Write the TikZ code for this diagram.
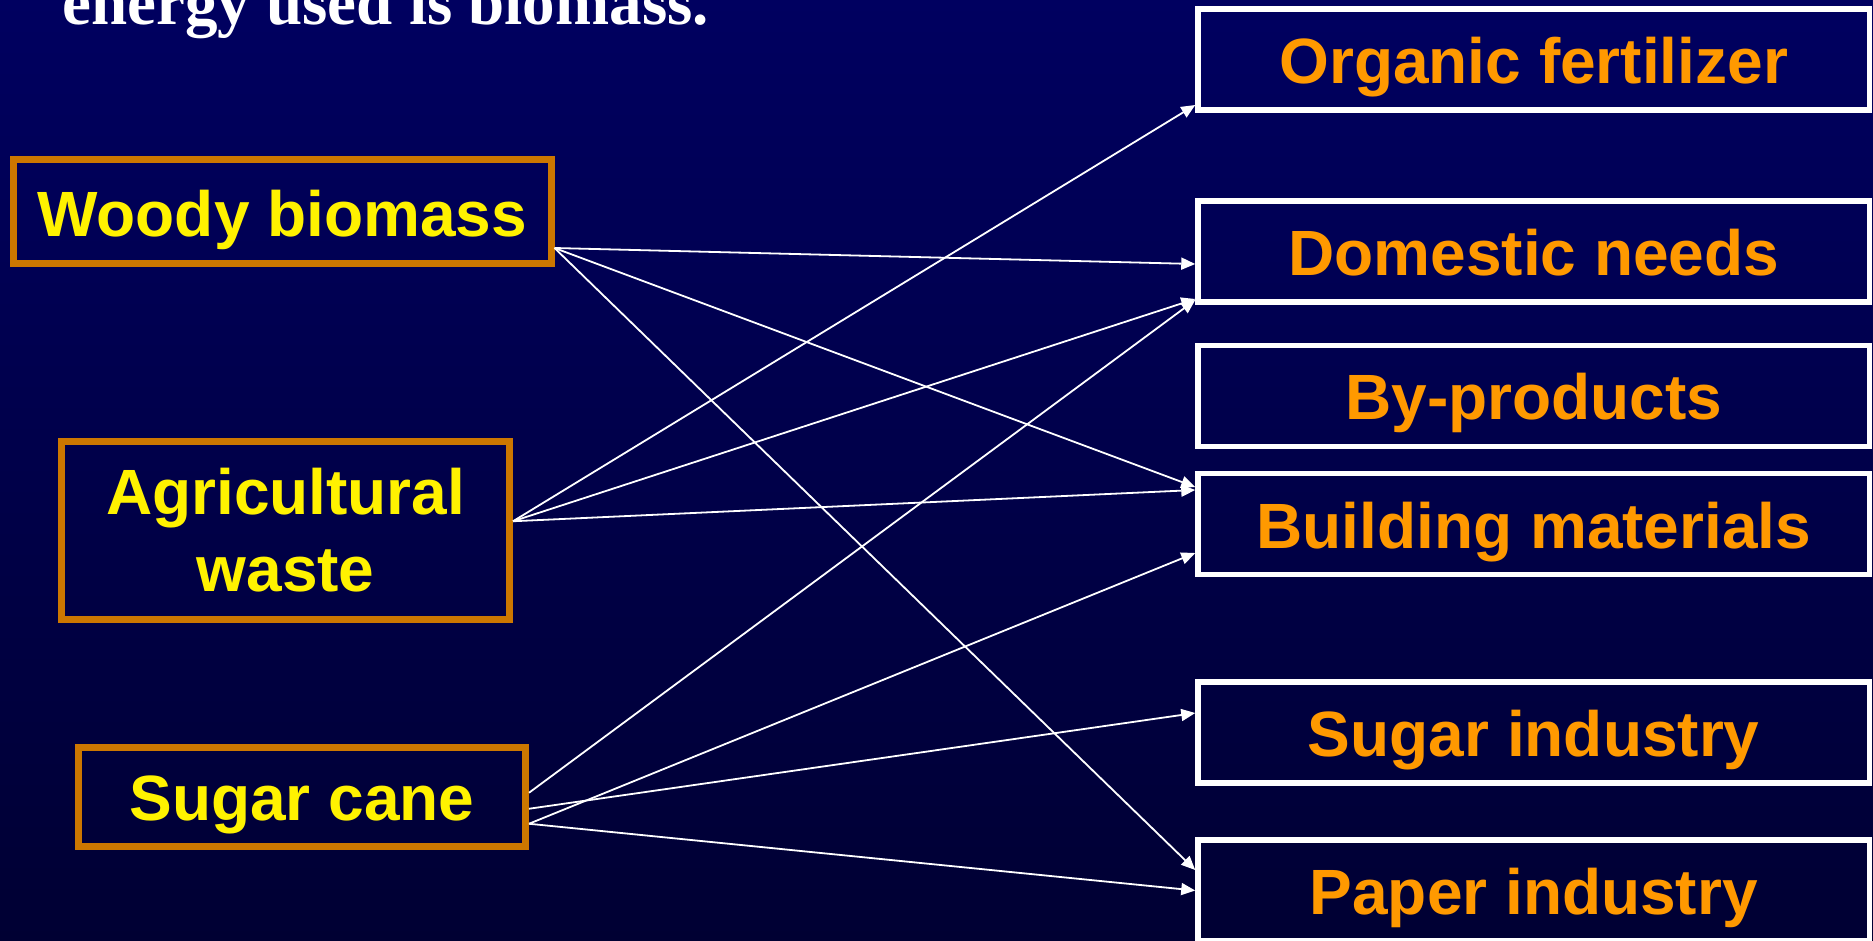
\documentclass[tikz,border=0pt]{standalone}
\usepackage{fontspec}
\setmainfont{Liberation Sans}
\newfontfamily\titlefont{Liberation Serif}
\usetikzlibrary{arrows.meta,calc}

\definecolor{bgtop}{HTML}{000060}
\definecolor{bgbot}{HTML}{000033}
\definecolor{frame}{HTML}{CC7700}
\definecolor{amber}{HTML}{FF9900}

\tikzstyle{crop} = [draw=frame, line width=3.5pt, text=yellow, font=\bfseries\fontsize{32}{38.5}\selectfont, align=center, inner sep=0pt, text height=24pt, text depth=0pt]
\tikzstyle{prod} = [draw=white, line width=2.75pt, text=amber, font=\bfseries\fontsize{32}{38.5}\selectfont, inner sep=0pt, minimum width=335.75pt, minimum height=50.5pt, text height=24pt, text depth=0pt]
\tikzstyle{arr} = [white, line width=0.9pt, -{Triangle[length=7pt,width=6pt]}]

\begin{document}
\begin{tikzpicture}[x=0.5pt,y=-0.5pt]
	\useasboundingbox (0,0) rectangle (1873,941);
	\clip (0,0) rectangle (1873,941);
	\shade[top color=bgtop, bottom color=bgbot] (0,0) rectangle (1873,941);
	\node[anchor=base west, inner sep=0pt, text=white, font=\titlefont\bfseries\fontsize{32.5}{39}\selectfont] (title) at (62,25) {energy used is biomass.};
	% raw materials
	\node[crop, minimum width=268.75pt, minimum height=52pt] (woody) at (282.25,212) {Woody biomass};
	\node[crop, minimum width=223.9pt, minimum height=89.25pt, text height={}, text depth={}] (agri) at (285.6,530.25) {Agricultural\\waste};
	\node[crop, minimum width=223.5pt, minimum height=49.25pt] (cane) at (302,796.75) {Sugar cane};
	% uses
	\node[prod] (org) at (1533.75,59.5) {Organic fertilizer};
	\node[prod] (dom) at (1533.75,251.5) {Domestic needs};
	\node[prod] (byp) at (1533.75,395.75) {By-products};
	\node[prod] (bld) at (1533.75,524) {Building materials};
	\node[prod] (ind) at (1533.75,732.5) {Sugar industry};
	\node[prod] (pap) at (1533.75,890.5) {Paper industry};
	% links
	\draw[arr] ($(woody.east)+(0,36)$) -- ($(dom.west)+(0,12.5)$);
	\draw[arr] ($(woody.east)+(0,36)$) -- ($(bld.west)+(0,-37)$);
	\draw[arr] ($(woody.east)+(0,36)$) -- ($(pap.west)+(0,-20.5)$);
	\draw[arr] ($(agri.east)+(0,-9)$) -- ($(org.west)+(0,45.5)$);
	\draw[arr] ($(agri.east)+(0,-9)$) -- ($(dom.west)+(0,47.5)$);
	\draw[arr] ($(agri.east)+(0,-9)$) -- ($(bld.west)+(0,-34)$);
	\draw[arr] ($(cane.east)+(0,-4)$) -- ($(dom.west)+(0,48.5)$);
	\draw[arr] ($(cane.east)+(0,12)$) -- ($(ind.west)+(0,-19.5)$);
	\draw[arr] ($(cane.east)+(0,27)$) -- ($(bld.west)+(0,29)$);
	\draw[arr] ($(cane.east)+(0,27)$) -- (pap.west);
\end{tikzpicture}
\end{document}
